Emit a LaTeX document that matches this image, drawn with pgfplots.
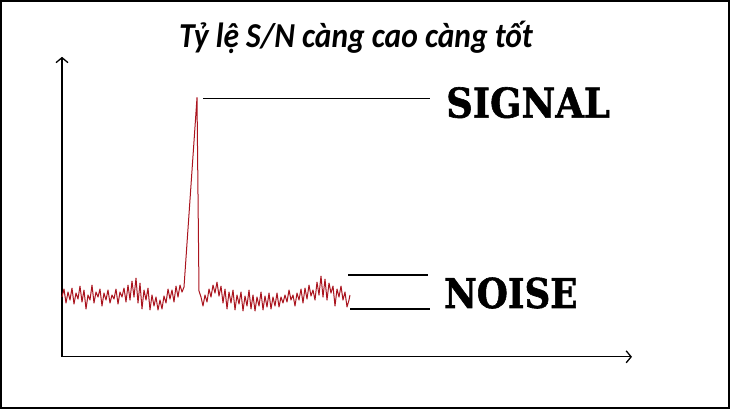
\documentclass[border=0pt]{standalone}
\usepackage{fontspec}
\usepackage{pgfplots}
\pgfplotsset{compat=1.18}
\usetikzlibrary{arrows.meta}
\newfontfamily\titlefont{Carlito}
\newfontfamily\stencilfont{DejaVu Serif}[BoldFeatures={FakeBold=1.5}]
\definecolor{trace}{RGB}{170,20,30}

% one axis unit = 1bp, so the picture is 730 x 410 with the frame
\begin{document}
\begin{tikzpicture}
\begin{axis}[
    scale only axis,
    width=570bp, height=300bp,
    xmin=62, xmax=632,
    ymin=52, ymax=353,
    axis lines=left,
    axis line style={line width=1.3bp, -{Straight Barb[length=5bp,width=12bp]}},
    xtick=\empty, ytick=\empty,
    clip=false,
]
\addplot[color=trace, line width=1bp, line join=round] coordinates {
(62,112)(64,120)(66,106)(68,117)(70,109)(72,121)(74,105)(76,116)(78,110)(80,123)
(82,107)(84,119)(86,100)(88,114)(90,109)(92,124)(94,106)(96,117)(98,112)(100,120)
(102,103)(104,116)(106,109)(108,119)(110,106)(112,114)(114,110)(116,120)(118,105)(120,117)
(122,112)(124,121)(126,107)(128,124)(130,109)(132,128)(134,112)(136,131)(138,106)(140,126)
(142,100)(144,119)(146,109)(148,121)(150,99)(152,114)(154,103)(156,112)(158,99)(160,109)
(162,100)(164,113)(166,106)(168,120)(170,110)(172,119)(174,107)(176,123)(178,112)(180,124)
(182,117)(184,122)(197,312)(199,118)
(201,112)(203,103)(205,114)(207,107)(209,120)(211,112)(213,124)(215,116)(217,127)(219,113)
(221,123)(223,106)(225,120)(227,100)(229,117)(231,106)(233,119)(235,99)(237,114)(239,105)
(241,117)(243,98)(245,113)(247,103)(249,119)(251,100)(253,114)(255,98)(257,112)(259,103)
(261,117)(263,99)(265,113)(267,102)(269,116)(271,100)(273,112)(275,103)(277,116)(279,102)
(281,112)(283,106)(285,114)(287,107)(289,119)(291,109)(293,114)(295,103)(297,116)(299,109)
(301,120)(303,106)(305,121)(307,110)(309,124)(311,113)(313,119)(315,109)(317,127)(319,114)
(321,133)(323,112)(325,130)(327,109)(329,126)(331,116)(333,123)(335,103)(337,120)(339,112)
(341,123)(343,109)(345,117)(347,102)(349,109)(350,114)
};

% pointer lines and labels
\draw[line width=1.4bp] (axis cs:203,311) -- (axis cs:430,311);
\draw[line width=1.4bp] (axis cs:348,134) -- (axis cs:428,134);
\draw[line width=1.4bp] (axis cs:350,100) -- (axis cs:430,100);
\node[anchor=west, inner sep=0pt] at (axis cs:446,307)
    {\scalebox{0.9}[1]{\stencilfont\bfseries\fontsize{41bp}{41bp}\selectfont SIGNAL}};
\node[anchor=west, inner sep=0pt] at (axis cs:444,116)
    {\scalebox{0.87}[1]{\stencilfont\bfseries\fontsize{41bp}{41bp}\selectfont NOISE}};

% title and frame
\node[inner sep=0pt] at (axis cs:356,372)
    {\scalebox{0.9}[1]{\titlefont\bfseries\itshape\fontsize{35bp}{35bp}\selectfont Tỷ lệ S/N càng cao càng tốt}};
\draw[line width=2bp] (axis cs:1,1) rectangle (axis cs:729,409);
\end{axis}
\end{tikzpicture}
\end{document}
